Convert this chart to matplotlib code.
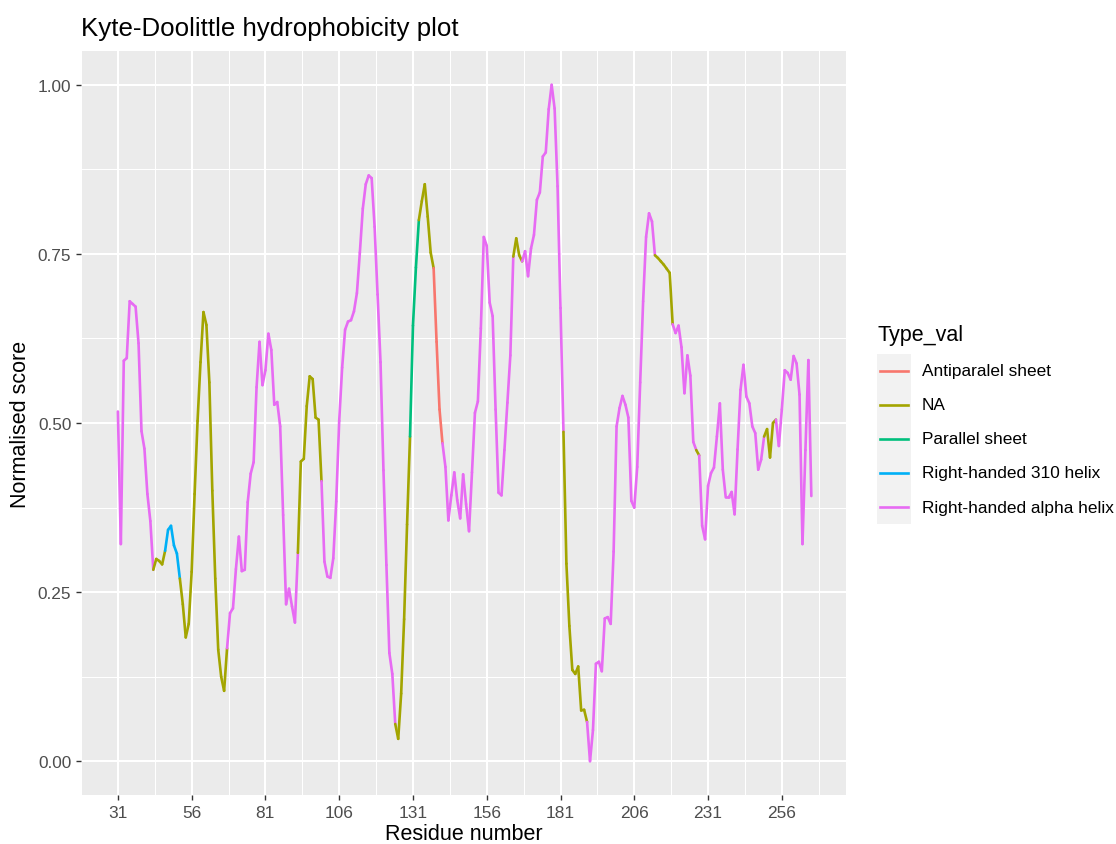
import numpy as np
import matplotlib.pyplot as plt
from matplotlib.collections import LineCollection
from matplotlib.lines import Line2D
from matplotlib.patches import Rectangle
from matplotlib.ticker import FormatStrFormatter

plt.rcParams['font.family'] = ['Liberation Sans', 'DejaVu Sans']

W, H = 1116, 845

# normalised Kyte-Doolittle score per residue, starting at residue 31
first_residue = 31
score = [
    0.517, 0.321, 0.592, 0.596, 0.680, 0.676, 0.672, 0.618, 0.488, 0.462,
    0.395, 0.355, 0.283, 0.299, 0.296, 0.291, 0.311, 0.342, 0.348, 0.319,
    0.307, 0.270, 0.232, 0.183, 0.203, 0.280, 0.395, 0.503, 0.590, 0.664,
    0.645, 0.560, 0.400, 0.270, 0.165, 0.125, 0.104, 0.167, 0.219, 0.226,
    0.284, 0.332, 0.281, 0.283, 0.383, 0.425, 0.442, 0.553, 0.620, 0.556,
    0.578, 0.632, 0.608, 0.527, 0.531, 0.495, 0.364, 0.232, 0.255, 0.229,
    0.205, 0.308, 0.443, 0.447, 0.525, 0.569, 0.565, 0.508, 0.505, 0.414,
    0.295, 0.273, 0.271, 0.300, 0.384, 0.503, 0.582, 0.638, 0.650, 0.652,
    0.665, 0.692, 0.752, 0.817, 0.853, 0.866, 0.862, 0.790, 0.690, 0.590,
    0.430, 0.290, 0.160, 0.129, 0.055, 0.033, 0.100, 0.210, 0.350, 0.480,
    0.644, 0.730, 0.800, 0.828, 0.853, 0.805, 0.752, 0.729, 0.620, 0.520,
    0.470, 0.435, 0.356, 0.393, 0.427, 0.386, 0.359, 0.424, 0.380, 0.340,
    0.427, 0.515, 0.532, 0.640, 0.775, 0.762, 0.678, 0.658, 0.520, 0.397,
    0.393, 0.460, 0.530, 0.600, 0.746, 0.773, 0.748, 0.739, 0.754, 0.717,
    0.758, 0.778, 0.830, 0.841, 0.894, 0.900, 0.964, 1.000, 0.965, 0.850,
    0.670, 0.487, 0.292, 0.200, 0.135, 0.129, 0.140, 0.075, 0.076, 0.058,
    0.000, 0.046, 0.144, 0.147, 0.133, 0.211, 0.213, 0.203, 0.310, 0.495,
    0.522, 0.540, 0.527, 0.508, 0.385, 0.375, 0.435, 0.560, 0.680, 0.775,
    0.810, 0.798, 0.748, 0.744, 0.739, 0.734, 0.728, 0.722, 0.646, 0.633,
    0.644, 0.612, 0.544, 0.600, 0.570, 0.472, 0.460, 0.452, 0.348, 0.328,
    0.407, 0.426, 0.434, 0.480, 0.529, 0.431, 0.390, 0.390, 0.398, 0.365,
    0.461, 0.549, 0.586, 0.539, 0.529, 0.495, 0.485, 0.431, 0.446, 0.480,
    0.491, 0.449, 0.500, 0.505, 0.466, 0.520, 0.578, 0.574, 0.564, 0.599,
    0.588, 0.542, 0.321, 0.460, 0.593, 0.392,
]
residue = np.arange(first_residue, first_residue + len(score))

type_levels = ['Antiparalel sheet', 'NA', 'Parallel sheet',
               'Right-handed 310 helix', 'Right-handed alpha helix']
type_colours = ['#F8766D', '#A3A500', '#00BF7D', '#00B0F6', '#E76BF3']

# secondary structure runs: first residue of each run and its type
run_start = [31, 43, 47, 52, 68, 92, 100, 125, 130, 133, 138,
             141, 165, 168, 182, 190, 213, 219, 227, 228, 250, 254]
run_type = ['Right-handed alpha helix', 'NA', 'Right-handed 310 helix', 'NA',
            'Right-handed alpha helix', 'NA', 'Right-handed alpha helix', 'NA',
            'Parallel sheet', 'NA', 'Antiparalel sheet',
            'Right-handed alpha helix', 'NA', 'Right-handed alpha helix', 'NA',
            'Right-handed alpha helix', 'NA', 'Right-handed alpha helix', 'NA',
            'Right-handed alpha helix', 'NA', 'Right-handed alpha helix']

x_breaks = [31, 56, 81, 106, 131, 156, 181, 206, 231, 256]
y_breaks = [0.0, 0.25, 0.5, 0.75, 1.0]

colour_of = dict(zip(type_levels, type_colours))
run_idx = np.searchsorted(run_start, residue, side='right') - 1
point_type = [run_type[i] for i in run_idx]

pts = np.column_stack([residue, score])
segs = np.stack([pts[:-1], pts[1:]], axis=1)
seg_cols = [colour_of[t] for t in point_type[:-1]]

fig = plt.figure(figsize=(W / 100, H / 100), dpi=100)
ax = fig.add_axes([81 / W, 1 - 796 / H, (846 - 81) / W, (796 - 52) / H])
ax.set_facecolor('#EBEBEB')
for s in ax.spines.values():
    s.set_visible(False)

lc = LineCollection(segs, colors=seg_cols, linewidths=1.9,
                    capstyle='round', joinstyle='round', zorder=3)
ax.add_collection(lc)

span = residue[-1] - residue[0]
ax.set_xlim(residue[0] - 0.05 * span, residue[-1] + 0.05 * span)
ax.set_ylim(-0.05, 1.05)
ax.set_xticks(x_breaks)
ax.set_xticks(np.arange(x_breaks[0] - 12.5, residue[-1] + 20, 25), minor=True)
ax.set_yticks(y_breaks)
ax.set_yticks([0.125, 0.375, 0.625, 0.875], minor=True)
ax.yaxis.set_major_formatter(FormatStrFormatter('%.2f'))
ax.grid(which='major', color='white', lw=1.5)
ax.grid(which='minor', color='white', lw=0.75)
ax.set_axisbelow(True)
ax.tick_params(which='major', length=3.9, width=1.0, color='#333333',
               labelsize=12.4, labelcolor='#4D4D4D', pad=3.1)
ax.tick_params(which='minor', length=0)


def fx(x):
    return x / W


def fy(y):
    return 1 - y / H


fig.text(fx(81), fy(36), 'Kyte-Doolittle hydrophobicity plot',
         fontsize=18.6, ha='left', va='baseline')
fig.text(fx(463.5), fy(835), 'Residue number', fontsize=15.5,
         ha='center', va='center')
fig.text(fx(21), fy(424), 'Normalised score', fontsize=15.5,
         ha='center', va='center', rotation=90)

# legend
fig.text(fx(878), fy(341), 'Type_val', fontsize=15.5, ha='left', va='baseline')
fig.add_artist(Rectangle((fx(877), fy(525)), 34 / W, 170 / H,
                         transform=fig.transFigure, facecolor='#F2F2F2',
                         edgecolor='none'))
for k, (name, col) in enumerate(zip(type_levels, type_colours)):
    yc = fy(372 + 34 * k)
    fig.add_artist(Line2D([fx(880), fx(908)], [yc, yc], color=col, lw=1.9,
                          transform=fig.transFigure))
    fig.text(fx(922), yc, name, fontsize=12.4, ha='left', va='center')

fig.savefig('out.png', dpi=100)
